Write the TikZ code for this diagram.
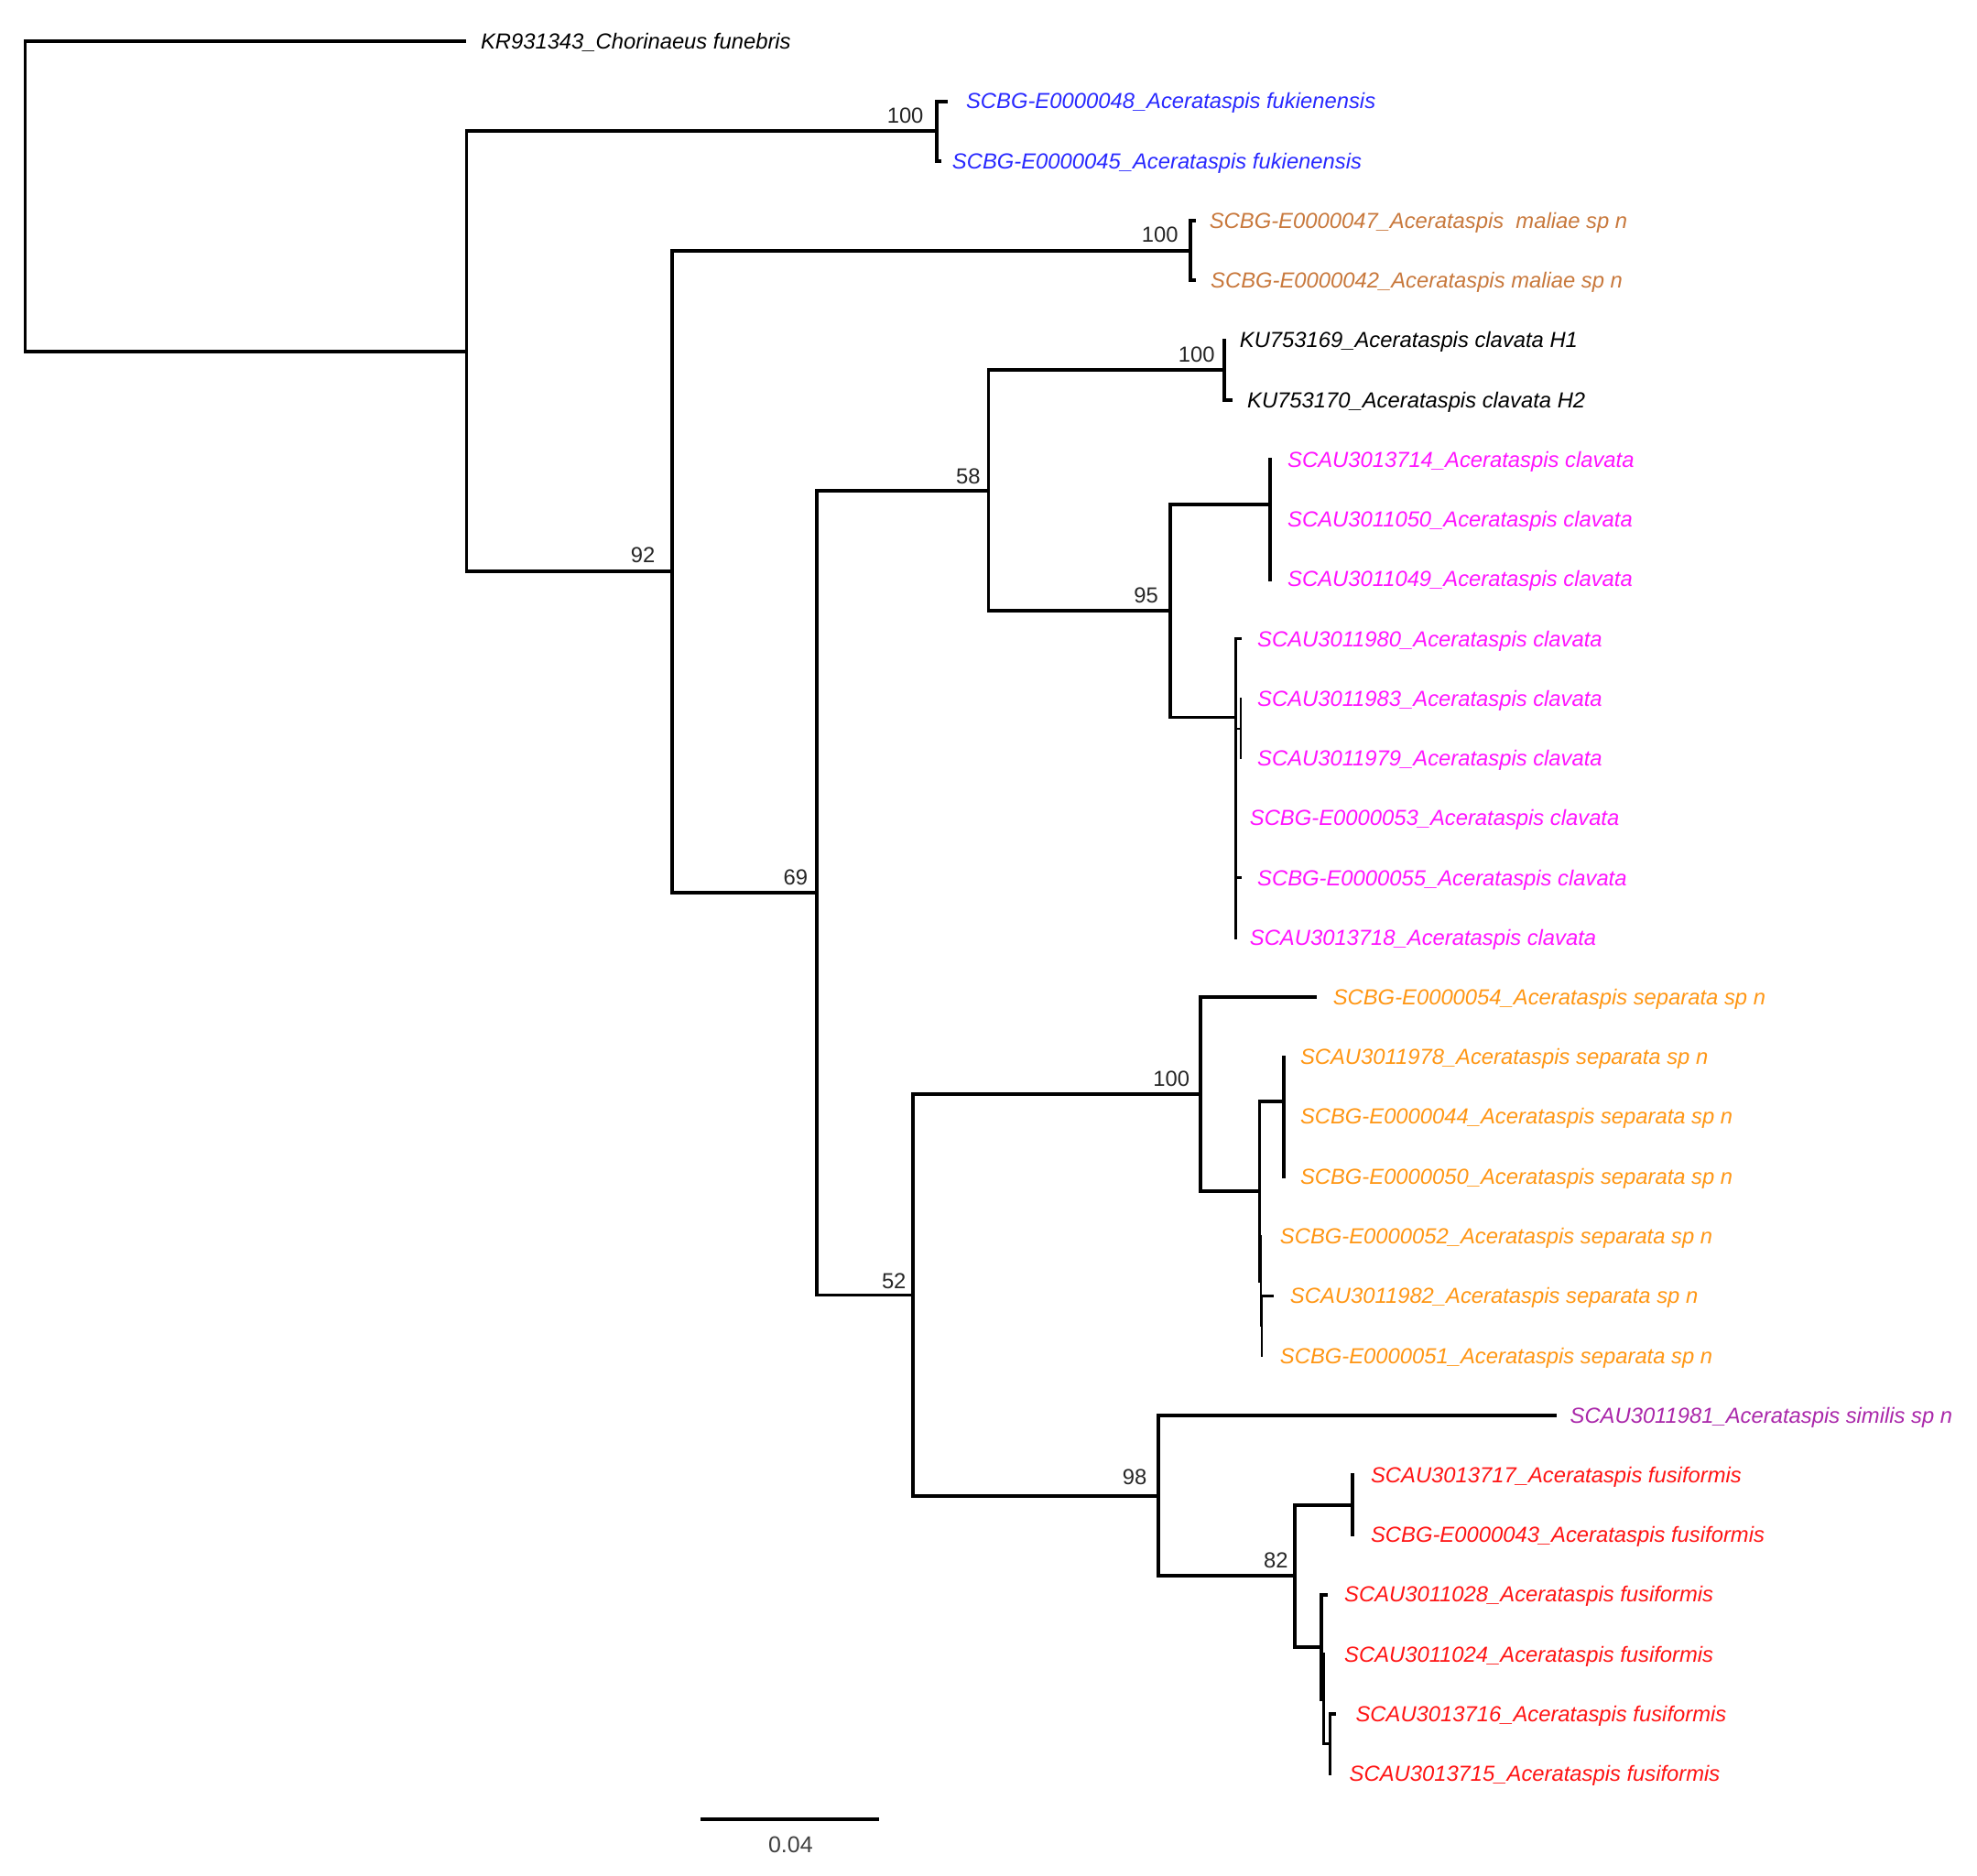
\documentclass[tikz,border=0pt]{standalone}
\usepackage{fontspec}
\newfontfamily\labfont{Liberation Sans}
\definecolor{cfuk}{RGB}{40,40,255}
\definecolor{cmal}{RGB}{200,120,60}
\definecolor{ccla}{RGB}{255,20,255}
\definecolor{csep}{RGB}{255,150,20}
\definecolor{csim}{RGB}{170,40,170}
\definecolor{cfus}{RGB}{255,20,20}
\begin{document}
\begin{tikzpicture}[x=0.6885pt,y=-0.6885pt,
  br/.style={line width=1.95pt, line cap=rect},
  midbr/.style={line width=1.5pt, line cap=rect},
  thinbr/.style={line width=1.1pt, line cap=rect},
  leaf/.style={anchor=base west, inner sep=0pt, font=\labfont\itshape\fontsize{11.9}{14}\selectfont},
  sup/.style={inner sep=0pt, font=\labfont\fontsize{11.9}{14}\selectfont, text=black!85}]
\useasboundingbox (0,0) rectangle (1568,1488);
% ---------- internal nodes ----------
\coordinate (Root) at (20,155.9);
\coordinate (A) at (370,278.8);
\coordinate (Fk) at (743,104.1);
\coordinate (B) at (533,453.5);
\coordinate (Ml) at (944,198.8);
\coordinate (C) at (648,708.2);
\coordinate (D) at (784,389.1);
\coordinate (KUn) at (971,293.6);
\coordinate (E) at (928,484.6);
\coordinate (F) at (1007,400.2);
\coordinate (G) at (980,569);
\coordinate (H) at (984,577.9);
\coordinate (J) at (724,1027.3);
\coordinate (I) at (952,868.1);
\coordinate (K) at (999,945.1);
\coordinate (L) at (1018,874);
\coordinate (M) at (1000,1016.2);
\coordinate (N) at (1001,1051.7);
\coordinate (O) at (919,1186.4);
\coordinate (P) at (1027,1250.1);
\coordinate (Q) at (1073,1193.8);
\coordinate (R) at (1048,1306.4);
\coordinate (S) at (1050,1347.8);
\coordinate (T) at (1055,1383.3);
% ---------- leaf tips ----------
\coordinate (tKR) at (368,33);
\coordinate (t48) at (750,80.4);
\coordinate (t45) at (745,127.8);
\coordinate (t47) at (947,175.1);
\coordinate (t42) at (947,222.5);
\coordinate (tK1) at (971,269.9);
\coordinate (tK2) at (976,317.3);
\coordinate (t714) at (1007,364.7);
\coordinate (t050) at (1007,412.0);
\coordinate (t049) at (1007,459.4);
\coordinate (t980) at (984,506.8);
\coordinate (t983) at (984,554.2);
\coordinate (t979) at (984,601.6);
\coordinate (t53) at (980,649.0);
\coordinate (t55) at (984,696.3);
\coordinate (t718) at (980,743.7);
\coordinate (t54) at (1043,791.1);
\coordinate (t978) at (1018,838.5);
\coordinate (t44) at (1018,885.8);
\coordinate (t50) at (1018,933.2);
\coordinate (t52) at (1001,980.6);
\coordinate (t982) at (1009,1028.0);
\coordinate (t51) at (1001,1075.4);
\coordinate (tsim) at (1233,1122.7);
\coordinate (t717) at (1073,1170.1);
\coordinate (t43) at (1073,1217.5);
\coordinate (t028) at (1052,1264.9);
\coordinate (t024) at (1050,1312.3);
\coordinate (t716) at (1058,1359.6);
\coordinate (t715) at (1055,1407.0);
% ---------- branches ----------
% root
\draw[br] (Root |- tKR) -- (Root |- A);
\draw[br] (Root |- tKR) -- (tKR);
\draw[br] (Root |- A) -- (A);
% A
\draw[br] (A |- Fk) -- (A |- B);
\draw[br] (A |- Fk) -- (Fk);
\draw[br] (A |- B) -- (B);
% Fk
\draw[br] (Fk |- t48) -- (Fk |- t45);
\draw[br] (Fk |- t48) -- (t48);
\draw[br] (Fk |- t45) -- (t45);
% B
\draw[br] (B |- Ml) -- (B |- C);
\draw[br] (B |- Ml) -- (Ml);
\draw[br] (B |- C) -- (C);
% Ml
\draw[br] (Ml |- t47) -- (Ml |- t42);
\draw[br] (Ml |- t47) -- (t47);
\draw[br] (Ml |- t42) -- (t42);
% C
\draw[br] (C |- D) -- (C |- J);
\draw[br] (C |- D) -- (D);
\draw[br] (C |- J) -- (J);
% D
\draw[br] (D |- KUn) -- (D |- E);
\draw[br] (D |- KUn) -- (KUn);
\draw[br] (D |- E) -- (E);
% KU
\draw[br] (KUn |- tK1) -- (KUn |- tK2);
\draw[br] (KUn |- tK2) -- (tK2);
% E
\draw[br] (E |- F) -- (E |- G);
\draw[br] (E |- F) -- (F);
\draw[br] (E |- G) -- (G);
% F
\draw[br] (F |- t714) -- (F |- t049);
% G
\draw[midbr] (G |- t980) -- (G |- t718);
\draw[midbr] (G |- t980) -- (t980);
\draw[midbr] (G |- t55) -- (t55);
\draw[thinbr] (G |- H) -- (H);
\draw[thinbr] (H |- t983) -- (H |- t979);
% J
\draw[br] (J |- I) -- (J |- O);
\draw[br] (J |- I) -- (I);
\draw[br] (J |- O) -- (O);
% I
\draw[br] (I |- t54) -- (I |- K);
\draw[br] (I |- t54) -- (t54);
\draw[br] (I |- K) -- (K);
% K
\draw[br] (K |- L) -- (K |- M);
\draw[br] (K |- L) -- (L);
% L
\draw[br] (L |- t978) -- (L |- t50);
% M, N
\draw[thinbr] (M |- t52) -- (M |- N);
\draw[thinbr] (N |- t982) -- (N |- t51);
\draw[br] (N |- t982) -- (t982);
% O
\draw[br] (O |- tsim) -- (O |- P);
\draw[br] (O |- tsim) -- (tsim);
\draw[br] (O |- P) -- (P);
% P
\draw[br] (P |- Q) -- (P |- R);
\draw[br] (P |- Q) -- (Q);
\draw[br] (P |- R) -- (R);
% Q
\draw[br] (Q |- t717) -- (Q |- t43);
% R
\draw[br] (R |- t028) -- (R |- S);
\draw[br] (R |- t028) -- (t028);
\draw[midbr] (S |- t024) -- (S |- T);
\draw[midbr] (S |- T) -- (T);
\draw[midbr] (T |- t716) -- (T |- t715);
\draw[br] (T |- t716) -- (t716);
% ---------- leaf labels ----------
\node[leaf] (lKR) at (381,39) {KR931343\_Chorinaeus funebris};
\node[leaf,text=cfuk] (l48) at (766,86.4) {SCBG-E0000048\_Acerataspis fukienensis};
\node[leaf,text=cfuk] (l45) at (755,133.8) {SCBG-E0000045\_Acerataspis fukienensis};
\node[leaf,text=cmal] (l47) at (959,181.1) {SCBG-E0000047\_Acerataspis~ maliae sp n};
\node[leaf,text=cmal] (l42) at (960,228.5) {SCBG-E0000042\_Acerataspis maliae sp n};
\node[leaf] (lK1) at (983,275.9) {KU753169\_Acerataspis clavata H1};
\node[leaf] (lK2) at (989,323.3) {KU753170\_Acerataspis clavata H2};
\node[leaf,text=ccla] (l714) at (1021,370.7) {SCAU3013714\_Acerataspis clavata};
\node[leaf,text=ccla] (l050) at (1021,418.0) {SCAU3011050\_Acerataspis clavata};
\node[leaf,text=ccla] (l049) at (1021,465.4) {SCAU3011049\_Acerataspis clavata};
\node[leaf,text=ccla] (l980) at (997,512.8) {SCAU3011980\_Acerataspis clavata};
\node[leaf,text=ccla] (l983) at (997,560.2) {SCAU3011983\_Acerataspis clavata};
\node[leaf,text=ccla] (l979) at (997,607.6) {SCAU3011979\_Acerataspis clavata};
\node[leaf,text=ccla] (l53) at (991,655.0) {SCBG-E0000053\_Acerataspis clavata};
\node[leaf,text=ccla] (l55) at (997,702.3) {SCBG-E0000055\_Acerataspis clavata};
\node[leaf,text=ccla] (l718) at (991,749.7) {SCAU3013718\_Acerataspis clavata};
\node[leaf,text=csep] (l54) at (1057,797.1) {SCBG-E0000054\_Acerataspis separata sp n};
\node[leaf,text=csep] (l978) at (1031,844.5) {SCAU3011978\_Acerataspis separata sp n};
\node[leaf,text=csep] (l44) at (1031,891.8) {SCBG-E0000044\_Acerataspis separata sp n};
\node[leaf,text=csep] (l50) at (1031,939.2) {SCBG-E0000050\_Acerataspis separata sp n};
\node[leaf,text=csep] (l52) at (1015,986.6) {SCBG-E0000052\_Acerataspis separata sp n};
\node[leaf,text=csep] (l982) at (1023,1034.0) {SCAU3011982\_Acerataspis separata sp n};
\node[leaf,text=csep] (l51) at (1015,1081.4) {SCBG-E0000051\_Acerataspis separata sp n};
\node[leaf,text=csim] (lsim) at (1245,1128.7) {SCAU3011981\_Acerataspis similis sp n};
\node[leaf,text=cfus] (l717) at (1087,1176.1) {SCAU3013717\_Acerataspis fusiformis};
\node[leaf,text=cfus] (l43) at (1087,1223.5) {SCBG-E0000043\_Acerataspis fusiformis};
\node[leaf,text=cfus] (l028) at (1066,1270.9) {SCAU3011028\_Acerataspis fusiformis};
\node[leaf,text=cfus] (l024) at (1066,1318.3) {SCAU3011024\_Acerataspis fusiformis};
\node[leaf,text=cfus] (l716) at (1075,1365.6) {SCAU3013716\_Acerataspis fusiformis};
\node[leaf,text=cfus] (l715) at (1070,1413.0) {SCAU3013715\_Acerataspis fusiformis};
% ---------- support values ----------
\node[sup] (sFk) at (718,92) {100};
\node[sup] (sMl) at (920,186) {100};
\node[sup] (sKU) at (949,281) {100};
\node[sup] (sB) at (510,440) {92};
\node[sup] (sD) at (768,378) {58};
\node[sup] (sC) at (631,696) {69};
\node[sup] (sE) at (909,472) {95};
\node[sup] (sI) at (929,856) {100};
\node[sup] (sJ) at (709,1016) {52};
\node[sup] (sO) at (900,1172) {98};
\node[sup] (sP) at (1012,1238) {82};
% ---------- scale bar ----------
\coordinate (sb1) at (557,1443);
\coordinate (sb2) at (696,1443);
\draw[br] (sb1) -- (sb2);
\node[inner sep=0pt, font=\labfont\fontsize{12.5}{14}\selectfont, text=black!75] (sbl) at (627,1463) {0.04};
\end{tikzpicture}
\end{document}
